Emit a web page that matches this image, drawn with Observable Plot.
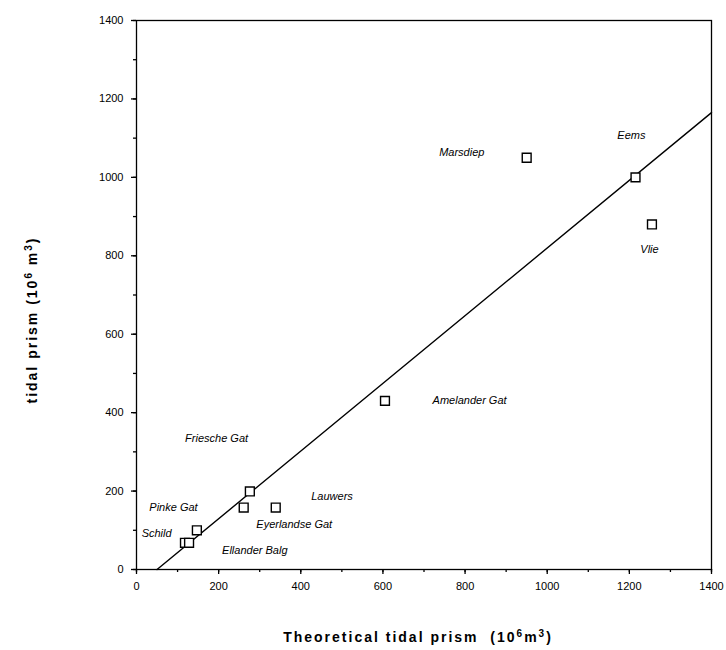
<!DOCTYPE html>
<html>
<head>
<meta charset="utf-8">
<script src="https://cdn.jsdelivr.net/npm/d3@7"></script>
<script src="https://cdn.jsdelivr.net/npm/@observablehq/plot@0.6"></script>
<style>
  body { margin: 0; background: #fff; }
  #chart { width: 726px; height: 650px; }
</style>
</head>
<body>
<div id="chart"></div>
<script>
// Inlet observations: theoretical vs observed tidal prism (10^6 m^3)
const theoretical = [950, 1215, 1255, 605, 276, 261, 339, 147, 118, 128];
const observed    = [1050, 1000, 880, 430, 199, 158, 158, 100, 68, 68];

// Inlet name labels and their positions (data units)
const labelNames = ["Marsdiep", "Eems", "Vlie", "Amelander Gat", "Friesche Gat", "Lauwers",
                    "Pinke Gat", "Eyerlandse Gat", "Schild", "Ellander Balg"];
const labelX = [792, 1205, 1249, 811, 195, 476, 90, 384, 49, 288];
const labelY = [1063, 1106, 815, 432, 335, 187, 158, 115, 92, 49];

// Fitted line endpoints
const fitX = [50, 1400];
const fitY = [0, 1165];

// Ticks
const minorTicks = d3.range(0, 1401, 100);
const majorTicks = d3.range(0, 1401, 200);

const points = theoretical.map((x, i) => ({x, y: observed[i]}));
const labels = labelNames.map((name, i) => ({name, x: labelX[i], y: labelY[i]}));
const fit = fitX.map((x, i) => ({x, y: fitY[i]}));

const font = "'Liberation Sans', Arial, Helvetica, sans-serif";

const chart = Plot.plot({
  width: 726,
  height: 650,
  marginLeft: 136,
  marginRight: 15,
  marginTop: 20,
  marginBottom: 81,
  style: {fontFamily: font, fontSize: "11px", color: "#000", background: "#fff"},
  x: {domain: [0, 1400], label: null},
  y: {domain: [0, 1400], label: null},
  marks: [
    Plot.frame({stroke: "#000", strokeWidth: 1.3}),
    Plot.axisX({ticks: minorTicks, tickSize: 3, tickFormat: () => "", strokeWidth: 1.3, label: null}),
    Plot.axisX({ticks: majorTicks, tickSize: 5, tickPadding: 8, tickFormat: d => String(d),
                fontSize: 11, letterSpacing: "1.5px", strokeWidth: 1.3, label: null}),
    Plot.axisY({ticks: minorTicks, tickSize: 3, tickFormat: () => "", strokeWidth: 1.3, label: null}),
    Plot.axisY({ticks: majorTicks, tickSize: 5, tickPadding: 8, tickFormat: d => String(d),
                fontSize: 11, strokeWidth: 1.3, label: null}),
    Plot.line(fit, {x: "x", y: "y", stroke: "#000", strokeWidth: 1.4}),
    Plot.dot(points, {x: "x", y: "y", symbol: "square", r: 5, stroke: "#000", fill: "#fff", strokeWidth: 1.4}),
    Plot.text(labels, {x: "x", y: "y", text: "name", fontStyle: "italic", fontSize: 11, fill: "#000"})
  ]
});

// Axis titles with superscripts
const svg = d3.select(chart);
function title(sel, parts) {
  parts.forEach(([t, sup]) => {
    const ts = sel.append("tspan").text(t);
    if (sup) ts.attr("baseline-shift", "super").attr("font-size", 10);
  });
}
const xt = svg.append("text")
  .attr("x", 418).attr("y", 642)
  .attr("text-anchor", "middle")
  .attr("font-family", font).attr("font-size", 14).attr("font-weight", "bold")
  .attr("letter-spacing", "2px");
title(xt, [["Theoretical tidal prism\u00a0\u00a0(10"], ["6", true], ["m"], ["3", true], [")"]]);

const yt = svg.append("text")
  .attr("transform", "translate(37,320) rotate(-90)")
  .attr("text-anchor", "middle")
  .attr("font-family", font).attr("font-size", 14).attr("font-weight", "bold")
  .attr("letter-spacing", "2px");
title(yt, [["tidal prism (10"], ["6", true], ["\u00a0m"], ["3", true], [")"]]);

document.getElementById("chart").appendChild(chart);
</script>
</body>
</html>
